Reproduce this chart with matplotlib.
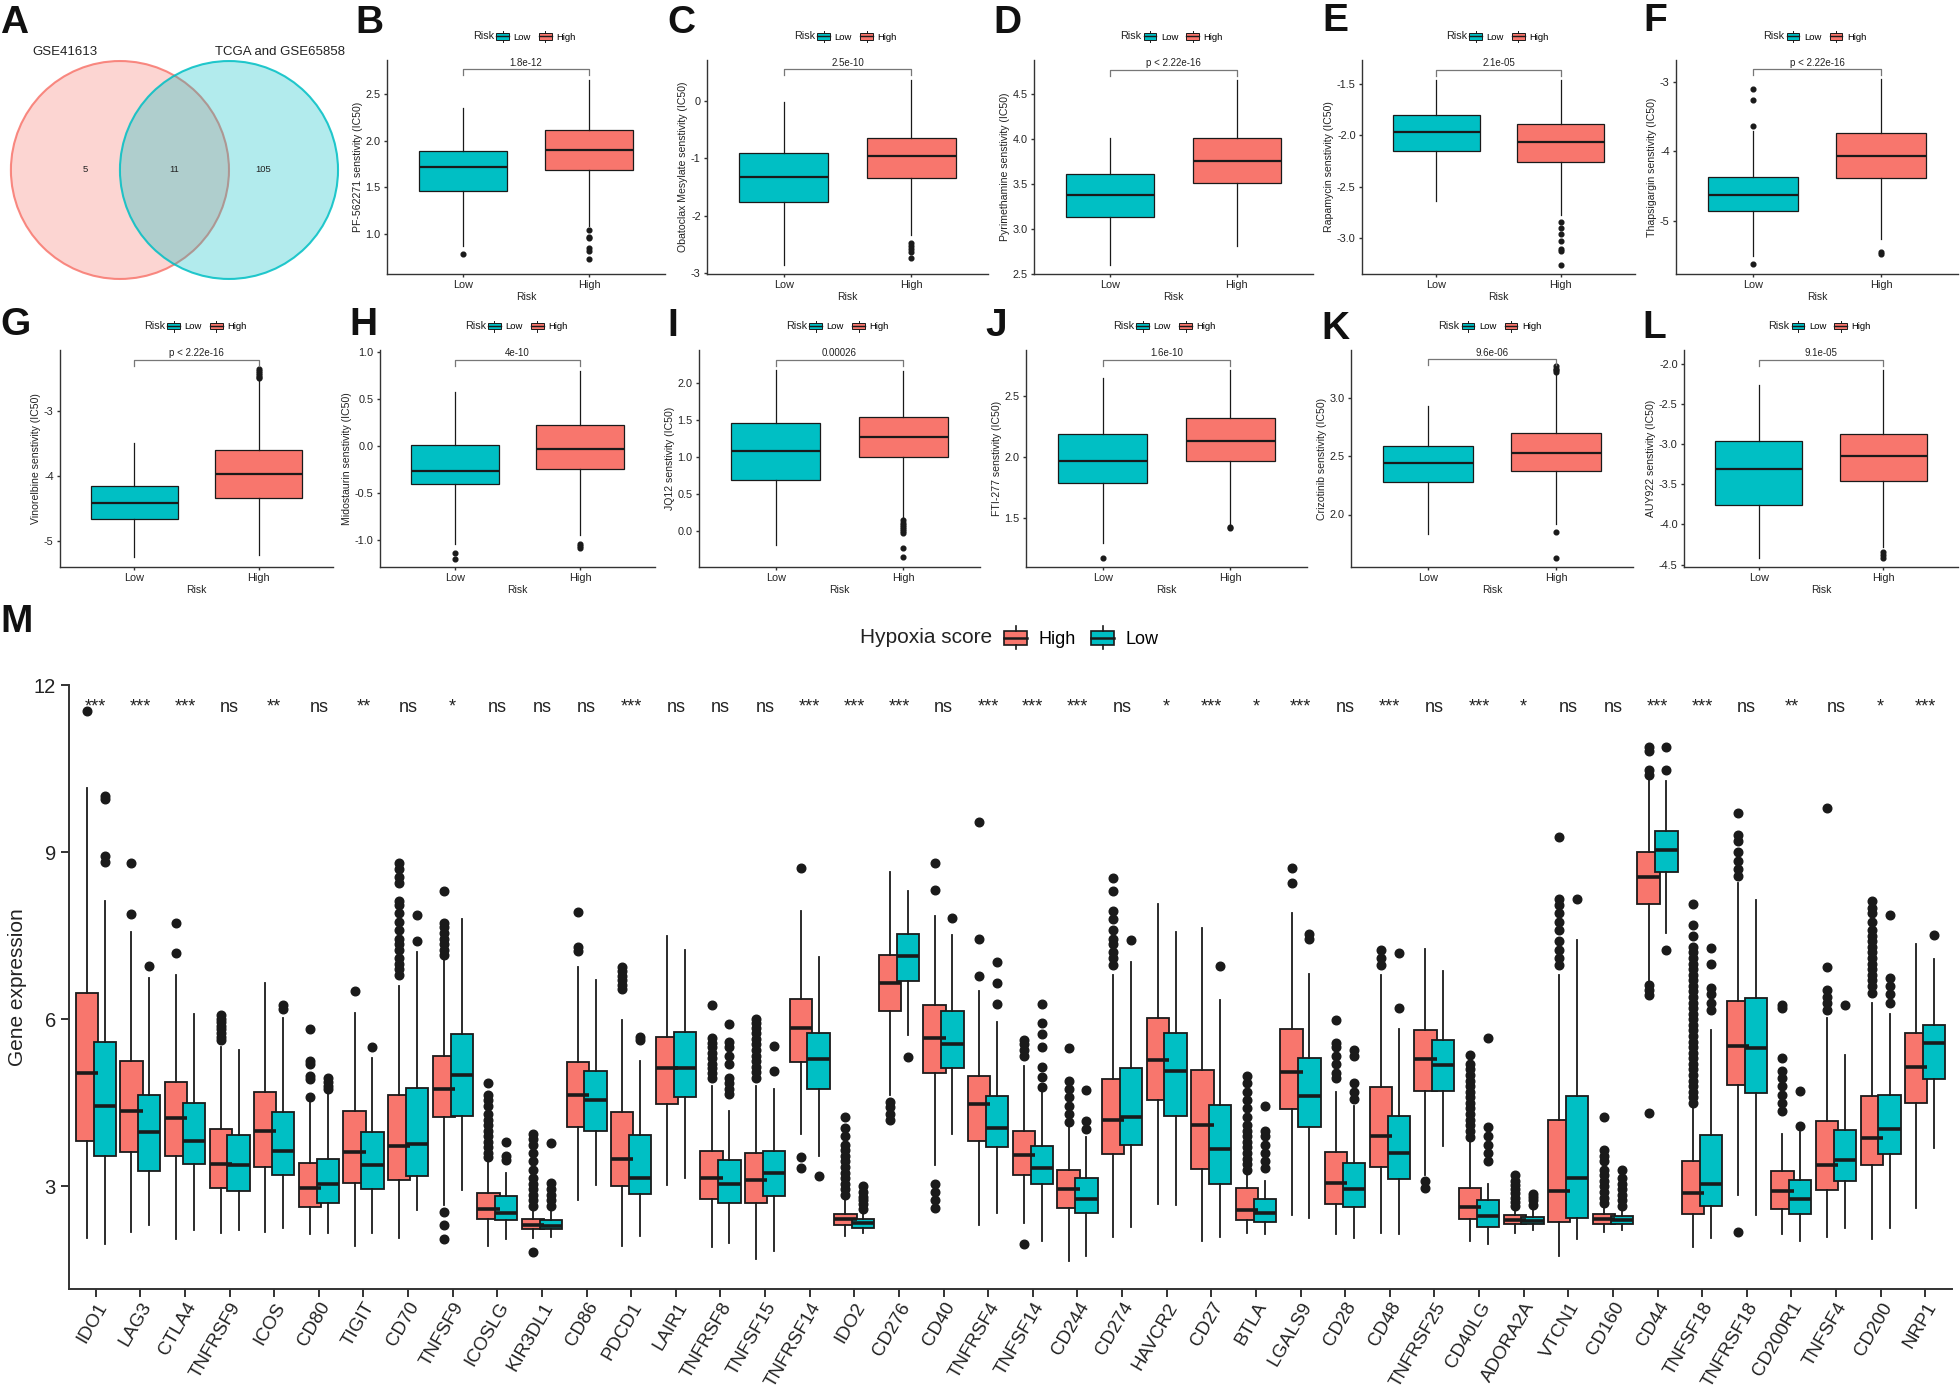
import numpy as np
import matplotlib
matplotlib.use('Agg')
import matplotlib.pyplot as plt
from matplotlib.patches import Circle, Rectangle, Patch
from matplotlib.lines import Line2D
from matplotlib.legend_handler import HandlerBase

plt.rcParams['font.family'] = ['Liberation Sans', 'DejaVu Sans']
plt.rcParams['axes.unicode_minus'] = False

TEAL = '#00BFC4'
SALMON = '#F8766D'
INK = '#1a1a1a'
AXC = '#333333'

# ---------------- A: venn
venn_sets = ['GSE41613', 'TCGA and GSE65858']
venn_counts = ['5', '11', '105']  # left only, shared, right only

# ---------------- B-L: drug sensitivity by risk group
panel_letters = ['B', 'C', 'D', 'E', 'F', 'G', 'H', 'I', 'J', 'K', 'L']
drugs = ['PF-562271', 'Obatoclax Mesylate', 'Pyrimethamine', 'Rapamycin', 'Thapsigargin',
         'Vinorelbine', 'Midostaurin', 'JQ12', 'FTI-277', 'Crizotinib', 'AUY922']
p_labels = ['1.8e-12', '2.5e-10', 'p < 2.22e-16', '2.1e-05', 'p < 2.22e-16',
            'p < 2.22e-16', '4e-10', '0.00026', '1.6e-10', '9.6e-06', '9.1e-05']
risk_groups = ['Low', 'High']

low_q1 = [1.46, -1.76, 3.13, -2.15, -4.85, -4.67, -0.41, 0.70, 1.79, 2.28, -3.76]
low_med = [1.72, -1.32, 3.38, -1.97, -4.63, -4.42, -0.27, 1.09, 1.97, 2.44, -3.31]
low_q3 = [1.89, -0.90, 3.61, -1.80, -4.37, -4.16, 0.01, 1.47, 2.19, 2.59, -2.96]
low_lo = [0.87, -2.86, 2.60, -2.64, -5.50, -5.25, -1.05, -0.18, 1.30, 1.83, -4.42]
low_hi = [2.35, -0.02, 4.01, -1.46, -3.71, -3.49, 0.57, 2.18, 2.65, 2.93, -2.26]
low_out = [[0.79], [], [], [], [-3.10, -3.27, -3.63, -5.62], [], [-1.14, -1.20], [],
           [1.17], [], []]

high_q1 = [1.69, -1.34, 3.51, -2.26, -4.38, -4.34, -0.25, 1.00, 1.97, 2.37, -3.46]
high_med = [1.90, -0.96, 3.76, -2.07, -4.07, -3.98, -0.03, 1.28, 2.13, 2.53, -3.15]
high_q3 = [2.11, -0.64, 4.01, -1.89, -3.74, -3.61, 0.22, 1.54, 2.32, 2.70, -2.87]
high_lo = [1.09, -2.34, 2.81, -2.78, -5.26, -5.22, -0.95, 0.18, 1.45, 1.92, -4.28]
high_hi = [2.65, 0.37, 4.66, -1.46, -2.96, -2.55, 0.80, 2.17, 2.72, 3.20, -2.08]
high_out = [[1.05, 0.97, 0.96, 0.85, 0.82, 0.74],
            [-2.47, -2.53, -2.58, -2.62, -2.74],
            [],
            [-2.84, -2.90, -2.96, -3.03, -3.11, -3.13, -3.26],
            [-5.44, -5.47],
            [-2.36, -2.39, -2.42, -2.45, -2.48, -2.50],
            [-1.05, -1.07, -1.09],
            [0.15, 0.12, 0.09, 0.06, 0.03, 0.0, -0.02, -0.23, -0.35],
            [1.43, 1.42],
            [3.22, 3.24, 3.25, 3.27, 1.85, 1.63],
            [-4.34, -4.38, -4.42]]

ytick_labels = [['1.0', '1.5', '2.0', '2.5'], ['-3', '-2', '-1', '0'],
                ['2.5', '3.0', '3.5', '4.0', '4.5'], ['-3.0', '-2.5', '-2.0', '-1.5'],
                ['-5', '-4', '-3'], ['-5', '-4', '-3'],
                ['-1.0', '-0.5', '0.0', '0.5', '1.0'], ['0.0', '0.5', '1.0', '1.5', '2.0'],
                ['1.5', '2.0', '2.5'], ['2.0', '2.5', '3.0'],
                ['-4.5', '-4.0', '-3.5', '-3.0', '-2.5', '-2.0']]
ylims = [(0.575, 2.86), (-3.01, 0.71), (2.5, 4.88), (-3.35, -1.27), (-5.76, -2.69),
         (-5.40, -2.07), (-1.29, 1.02), (-0.48, 2.45), (1.10, 2.88), (1.55, 3.41),
         (-4.53, -1.83)]

# ---------------- M: immune checkpoint genes by hypoxia score
genes = ['IDO1', 'LAG3', 'CTLA4', 'TNFRSF9', 'ICOS', 'CD80', 'TIGIT', 'CD70', 'TNFSF9',
         'ICOSLG', 'KIR3DL1', 'CD86', 'PDCD1', 'LAIR1', 'TNFRSF8', 'TNFSF15', 'TNFRSF14',
         'IDO2', 'CD276', 'CD40', 'TNFRSF4', 'TNFSF14', 'CD244', 'CD274', 'HAVCR2', 'CD27',
         'BTLA', 'LGALS9', 'CD28', 'CD48', 'TNFRSF25', 'CD40LG', 'ADORA2A', 'VTCN1', 'CD160',
         'CD44', 'TNFSF18', 'TNFRSF18', 'CD200R1', 'TNFSF4', 'CD200', 'NRP1']
sig = ['***', '***', '***', 'ns', '**', 'ns', '**', 'ns', '*', 'ns', 'ns', 'ns', '***', 'ns',
       'ns', 'ns', '***', '***', '***', 'ns', '***', '***', '***', 'ns', '*', '***', '*', '***',
       'ns', '***', 'ns', '***', '*', 'ns', 'ns', '***', '***', 'ns', '**', 'ns', '*', '***']

hi_q1 = [3.82, 3.62, 3.55, 2.98, 3.35, 2.64, 3.07, 3.12, 4.25, 2.42, 2.24, 4.07, 3.00, 4.48,
         2.77, 2.71, 5.24, 2.30, 6.15, 5.03, 3.82, 3.20, 2.62, 3.58, 4.56, 3.31, 2.39, 4.39,
         2.68, 3.35, 4.71, 2.42, 2.33, 2.37, 2.32, 8.07, 2.51, 4.83, 2.59, 2.93, 3.39, 4.49]
hi_med = [5.03, 4.36, 4.22, 3.41, 4.00, 2.98, 3.62, 3.73, 4.75, 2.60, 2.30, 4.64, 3.50, 5.12,
          3.16, 3.12, 5.85, 2.42, 6.65, 5.66, 4.48, 3.57, 2.95, 4.19, 5.27, 4.10, 2.57, 5.05,
          3.07, 3.91, 5.28, 2.64, 2.40, 2.92, 2.42, 8.56, 2.89, 5.53, 2.91, 3.39, 3.87, 5.15]
hi_q3 = [6.47, 5.25, 4.88, 4.03, 4.70, 3.42, 4.35, 4.64, 5.35, 2.89, 2.42, 5.24, 4.33, 5.69,
         3.64, 3.60, 6.36, 2.50, 7.16, 6.25, 4.98, 4.00, 3.30, 4.93, 6.02, 5.09, 2.98, 5.82,
         3.62, 4.78, 5.80, 2.98, 2.48, 4.19, 2.51, 9.00, 3.45, 6.32, 3.28, 4.18, 4.62, 5.75]
hi_lo = [2.07, 2.18, 2.05, 2.16, 2.18, 2.15, 1.94, 2.07, 2.66, 1.94, 2.07, 2.75, 1.94, 3.03,
         1.91, 1.69, 3.94, 2.12, 4.65, 3.39, 2.30, 2.35, 1.66, 2.09, 2.68, 2.03, 2.16, 2.48,
         2.14, 2.16, 3.20, 2.03, 2.16, 1.75, 2.18, 6.66, 1.91, 2.85, 2.14, 2.09, 2.05, 2.62]
hi_hi = [10.16, 7.57, 6.80, 5.50, 6.66, 4.57, 6.12, 6.60, 7.10, 3.45, 2.60, 6.94, 5.98, 7.50,
         4.80, 4.80, 7.94, 2.78, 8.65, 7.85, 6.50, 5.16, 4.10, 6.80, 8.07, 7.64, 3.20, 7.91,
         4.70, 6.80, 7.27, 3.80, 2.60, 6.80, 2.62, 10.30, 4.45, 8.44, 3.95, 6.03, 6.30, 7.36]
hi_out = [[11.53], [7.89, 8.80], [7.19, 7.73],
          [5.62, 5.68, 5.75, 5.82, 5.88, 5.95, 6.01, 6.07], [],
          [4.60, 4.93, 4.98, 5.20, 5.25, 5.82], [6.51],
          [6.8, 6.9, 7.0, 7.1, 7.25, 7.35, 7.45, 7.6, 7.75, 7.9, 8.05, 8.12, 8.45, 8.55, 8.7, 8.8],
          [7.15, 7.25, 7.35, 7.45, 7.55, 7.65, 7.72, 8.30, 2.55, 2.30, 2.05],
          [3.53, 3.6, 3.7, 3.8, 3.9, 4.0, 4.1, 4.2, 4.3, 4.45, 4.55, 4.65, 4.85],
          [2.65, 2.75, 2.85, 2.95, 3.05, 3.15, 3.3, 3.45, 3.6, 3.75, 3.85, 3.94, 1.83],
          [7.22, 7.30, 7.92], [6.55, 6.62, 6.70, 6.78, 6.86, 6.94], [],
          [4.94, 5.03, 5.12, 5.2, 5.3, 5.4, 5.5, 5.58, 5.66, 6.25],
          [4.94, 5.05, 5.15, 5.25, 5.35, 5.45, 5.55, 5.65, 5.75, 5.85, 5.93, 6.00],
          [8.71, 3.53, 3.33],
          [2.85, 2.95, 3.05, 3.15, 3.25, 3.35, 3.45, 3.55, 3.65, 3.75, 3.9, 4.05, 4.25],
          [4.52, 4.42, 4.30, 4.20], [8.32, 8.80, 3.05, 2.90, 2.75, 2.62],
          [6.78, 7.45, 9.55], [5.35, 5.45, 5.55, 5.62, 1.96],
          [4.16, 4.3, 4.45, 4.6, 4.75, 4.9, 5.48],
          [6.98, 7.1, 7.2, 7.35, 7.45, 7.6, 7.8, 7.95, 8.3, 8.53], [], [],
          [3.3, 3.4, 3.5, 3.6, 3.7, 3.8, 3.9, 4.0, 4.1, 4.25, 4.4, 4.55, 4.7, 4.85, 4.98],
          [8.44, 8.71], [4.95, 5.03, 5.2, 5.35, 5.5, 5.57, 5.98], [6.98, 7.10, 7.25],
          [3.10, 2.98],
          [3.89, 4.0, 4.1, 4.2, 4.3, 4.4, 4.5, 4.6, 4.7, 4.8, 4.9, 5.0, 5.1, 5.2, 5.36],
          [2.65, 2.72, 2.8, 2.88, 2.95, 3.02, 3.1, 3.2],
          [6.98, 7.1, 7.25, 7.4, 7.6, 7.75, 7.9, 8.05, 8.16, 9.28],
          [2.7, 2.8, 2.9, 3.0, 3.1, 3.2, 3.3, 3.45, 3.55, 3.66, 4.25],
          [10.39, 10.48, 10.82, 10.89, 6.62, 6.53, 6.44, 4.32],
          [4.5, 4.6, 4.7, 4.8, 4.9, 5.0, 5.1, 5.2, 5.3, 5.4, 5.5, 5.6, 5.7, 5.8, 5.9, 6.0,
           6.1, 6.2, 6.3, 6.4, 6.5, 6.6, 6.7, 6.8, 6.9, 7.0, 7.1, 7.2, 7.3, 7.5, 7.7, 8.07],
          [8.57, 8.7, 8.85, 9.0, 9.2, 9.3, 9.71, 2.18],
          [4.35, 4.5, 4.65, 4.8, 4.95, 5.07, 5.30, 6.20, 6.25],
          [6.16, 6.3, 6.4, 6.53, 6.94, 9.80],
          [6.48, 6.6, 6.7, 6.8, 6.9, 7.0, 7.1, 7.2, 7.3, 7.4, 7.5, 7.6, 7.75, 7.9, 8.0, 8.12],
          []]

lo_q1 = [3.55, 3.27, 3.40, 2.91, 3.20, 2.71, 2.96, 3.18, 4.27, 2.39, 2.24, 4.00, 2.87, 4.60,
         2.71, 2.83, 4.75, 2.25, 6.69, 5.12, 3.71, 3.05, 2.53, 3.75, 4.27, 3.05, 2.36, 4.07,
         2.64, 3.14, 4.71, 2.27, 2.32, 2.44, 2.32, 8.65, 2.65, 4.68, 2.50, 3.09, 3.59, 4.92]
lo_med = [4.45, 3.98, 3.82, 3.38, 3.63, 3.05, 3.39, 3.77, 5.00, 2.53, 2.29, 4.55, 3.16, 5.12,
          3.05, 3.24, 5.28, 2.35, 7.14, 5.55, 4.05, 3.33, 2.78, 4.25, 5.07, 3.68, 2.53, 4.62,
          2.95, 3.60, 5.18, 2.47, 2.38, 3.16, 2.40, 9.04, 3.05, 5.48, 2.77, 3.48, 4.03, 5.57]
lo_q3 = [5.60, 4.65, 4.50, 3.93, 4.33, 3.50, 3.97, 4.77, 5.74, 2.83, 2.40, 5.07, 3.93, 5.78,
         3.48, 3.64, 5.75, 2.42, 7.53, 6.15, 4.62, 3.73, 3.15, 5.12, 5.75, 4.47, 2.77, 5.30,
         3.42, 4.27, 5.62, 2.75, 2.45, 4.62, 2.47, 9.38, 3.92, 6.38, 3.11, 4.02, 4.65, 5.89]
lo_lo = [1.96, 2.30, 2.21, 2.21, 2.25, 2.16, 2.16, 2.57, 2.94, 2.05, 2.09, 3.03, 2.12, 3.15,
         1.98, 1.85, 3.55, 2.16, 5.71, 3.94, 2.53, 2.03, 1.75, 2.27, 2.66, 2.09, 2.15, 2.44,
         2.07, 2.15, 3.73, 1.96, 2.21, 2.05, 2.21, 7.55, 2.07, 2.48, 2.03, 2.25, 2.25, 3.69]
lo_hi = [8.12, 6.75, 6.09, 5.45, 6.03, 4.70, 5.30, 7.21, 7.80, 3.25, 2.60, 6.70, 5.25, 7.25,
         4.35, 4.75, 7.12, 2.55, 8.30, 7.51, 5.95, 4.73, 3.89, 7.03, 7.57, 6.35, 3.10, 6.82,
         4.44, 5.83, 6.86, 3.05, 2.62, 7.42, 2.58, 10.28, 5.80, 8.15, 3.98, 5.36, 6.10, 7.09]
lo_out = [[8.82, 8.94, 9.96, 10.00], [6.96], [], [], [6.18, 6.25], [4.75, 4.80, 4.87, 4.94],
          [5.51], [7.41, 7.87], [], [3.48, 3.55, 3.80], [2.65, 2.75, 2.85, 2.95, 3.07, 3.78],
          [], [5.62, 5.69], [], [4.66, 4.75, 4.85, 4.95, 5.2, 5.35, 5.5, 5.6, 5.91],
          [5.07, 5.53], [3.19], [2.6, 2.68, 2.75, 2.82, 2.9, 3.0], [5.33], [7.82],
          [6.28, 6.65, 7.03], [4.78, 4.96, 5.15, 5.5, 5.73, 5.94, 6.28], [4.03, 4.18, 4.73],
          [7.42], [], [6.96], [3.33, 3.45, 3.6, 3.75, 3.9, 4.0, 4.45], [7.44, 7.53],
          [4.57, 4.7, 4.85, 5.35, 5.45], [6.21, 7.19], [], [3.45, 3.6, 3.75, 3.9, 4.07, 5.66],
          [2.66, 2.75, 2.82, 2.87], [8.16], [2.65, 2.75, 2.85, 2.95, 3.05, 3.15, 3.3],
          [10.48, 10.89, 7.25], [6.16, 6.3, 6.45, 6.57, 7.0, 7.28], [], [4.09, 4.71], [6.25],
          [6.3, 6.45, 6.6, 6.75, 7.87], [7.51]]

W, H = 1960, 1394
fig = plt.figure(figsize=(W / 100, H / 100), dpi=100)


def px_axes(x0, y0, x1, y1):
    return fig.add_axes([x0 / W, 1 - y1 / H, (x1 - x0) / W, (y1 - y0) / H])


class BoxKey(HandlerBase):
    def __init__(self, lw=0.8, mlw=1.2):
        super().__init__()
        self.lw = lw
        self.mlw = mlw

    def create_artists(self, legend, orig_handle, xdescent, ydescent, width, height,
                       fontsize, trans):
        x0, y0 = -xdescent, -ydescent
        cx = x0 + width / 2
        box = Rectangle((x0 + 0.05 * width, y0 + 0.2 * height), 0.9 * width, 0.6 * height,
                        facecolor=orig_handle.get_facecolor(), edgecolor=INK, lw=self.lw,
                        transform=trans)
        med = Line2D([x0 + 0.05 * width, x0 + 0.95 * width], [y0 + height / 2] * 2,
                     color=INK, lw=self.mlw, transform=trans)
        w1 = Line2D([cx, cx], [y0 + 0.8 * height, y0 + height], color=INK, lw=self.lw,
                    transform=trans)
        w2 = Line2D([cx, cx], [y0, y0 + 0.2 * height], color=INK, lw=self.lw, transform=trans)
        return [box, med, w1, w2]


def style_axis(ax, lw, tl, ls):
    ax.spines[['top', 'right']].set_visible(False)
    for s in ['left', 'bottom']:
        ax.spines[s].set_linewidth(lw)
        ax.spines[s].set_color(AXC)
    ax.tick_params(length=tl, width=lw, color=AXC, labelsize=ls, labelcolor='#222222')


# ---------------- panel A
ax = px_axes(0, 40, 345, 300)
ax.set_xlim(-1.60, 1.564)
ax.set_ylim(-1.193, 1.193)
ax.axis('off')
for cx, col in zip([-0.5, 0.5], [SALMON, TEAL]):
    ax.add_patch(Circle((cx, 0), 1.0, facecolor=col, alpha=0.3, edgecolor='none'))
    ax.add_patch(Circle((cx, 0), 1.0, facecolor='none', edgecolor=col, lw=1.5, alpha=0.85))
for x, t in zip([-0.82, 0.0, 0.81], venn_counts):
    ax.text(x, 0, t, ha='center', va='center', fontsize=6.8, color='#222222')
ax.text(-1.0, 1.085, venn_sets[0], ha='center', va='center', fontsize=9.5, color='#222222')
ax.text(0.97, 1.085, venn_sets[1], ha='center', va='center', fontsize=9.5, color='#222222')

# ---------------- panels B-L
boxes_px = [(387, 60, 665, 274), (707, 60, 988, 274), (1034, 60, 1313, 274),
            (1362, 60, 1635, 274), (1676, 60, 1958, 274),
            (60, 350, 333, 567), (380, 350, 655, 567), (699, 350, 980, 567),
            (1026, 350, 1307, 567), (1351, 350, 1633, 567), (1684, 350, 1958, 567)]

for i in range(11):
    x0, y0, x1, y1 = boxes_px[i]
    ax = px_axes(x0, y0, x1, y1)
    stats = [dict(q1=low_q1[i], med=low_med[i], q3=low_q3[i], whislo=low_lo[i],
                  whishi=low_hi[i], fliers=low_out[i]),
             dict(q1=high_q1[i], med=high_med[i], q3=high_q3[i], whislo=high_lo[i],
                  whishi=high_hi[i], fliers=high_out[i])]
    for k, col in enumerate([TEAL, SALMON]):
        ax.bxp([stats[k]], positions=[k + 1], widths=0.7, patch_artist=True,
               showcaps=False, manage_ticks=False,
               boxprops=dict(facecolor=col, edgecolor=INK, linewidth=0.9),
               medianprops=dict(color=INK, linewidth=1.6),
               whiskerprops=dict(color=INK, linewidth=0.9),
               flierprops=dict(marker='o', markerfacecolor=INK, markeredgecolor=INK,
                               markersize=3.4))
    ax.set_xlim(0.4, 2.6)
    lo, hi = ylims[i]
    ax.set_ylim(lo, hi)
    ax.set_xticks([1, 2])
    ax.set_xticklabels(risk_groups)
    ax.set_yticks([float(s) for s in ytick_labels[i]])
    ax.set_yticklabels(ytick_labels[i])
    style_axis(ax, 1.0, 2.5, 7.8)
    ax.tick_params(axis='x', pad=2)
    ax.tick_params(axis='y', pad=2)
    ax.set_xlabel('Risk', fontsize=7.5, labelpad=1, color='#222222')
    ax.set_ylabel(drugs[i] + ' senstivity (IC50)', fontsize=7.6, labelpad=2, color='#222222')
    # comparison bracket
    dy = (hi - lo) / (y1 - y0)
    yb = hi - 9.5 * dy
    ax.plot([1, 1, 2, 2], [yb - 6 * dy, yb, yb, yb - 6 * dy], color='#777777', lw=0.9)
    ax.text(1.5, yb + 1.0 * dy, p_labels[i], ha='center', va='bottom', fontsize=7,
            color='#222222')
    # legend
    ax.text(0.385, 1.11, 'Risk', transform=ax.transAxes, ha='right', va='center',
            fontsize=7.8, color='#222222')
    hl = [Patch(facecolor=TEAL), Patch(facecolor=SALMON)]
    ax.legend(hl, risk_groups, loc='center left', bbox_to_anchor=(0.39, 1.11), ncol=2,
              frameon=False, fontsize=6.8, handlelength=1.5, handleheight=1.4,
              handletextpad=0.4, columnspacing=0.8, borderpad=0, borderaxespad=0,
              handler_map={Patch: BoxKey(0.7, 1.0)})

# ---------------- panel M
ax = px_axes(69, 685, 1952, 1289)
pos = np.arange(1, len(genes) + 1)
hi_stats = [dict(q1=hi_q1[i], med=hi_med[i], q3=hi_q3[i], whislo=hi_lo[i], whishi=hi_hi[i],
                 fliers=hi_out[i]) for i in range(len(genes))]
lo_stats = [dict(q1=lo_q1[i], med=lo_med[i], q3=lo_q3[i], whislo=lo_lo[i], whishi=lo_hi[i],
                 fliers=lo_out[i]) for i in range(len(genes))]
for st, off, col in [(hi_stats, -0.2, SALMON), (lo_stats, 0.2, TEAL)]:
    ax.bxp(st, positions=pos + off, widths=0.5, patch_artist=True, showcaps=False,
           manage_ticks=False,
           boxprops=dict(facecolor=col, edgecolor=INK, linewidth=1.3),
           medianprops=dict(color=INK, linewidth=2.6),
           whiskerprops=dict(color=INK, linewidth=1.3),
           flierprops=dict(marker='o', markerfacecolor=INK, markeredgecolor=INK,
                           markersize=6.2))
for i, s in enumerate(sig):
    ax.text(pos[i], 11.52, s, ha='center', va='baseline', fontsize=13, color='#222222')
ax.set_xlim(0.4, len(genes) + 0.6)
ax.set_ylim(1.16, 12.0)
ax.set_yticks([3, 6, 9, 12])
ax.set_xticks(pos)
ax.set_xticklabels(genes, rotation=60, ha='right', rotation_mode='anchor')
style_axis(ax, 1.4, 5.5, 14.5)
ax.tick_params(axis='x', labelsize=13.5, pad=2)
ax.tick_params(axis='y', pad=4)
ax.set_ylabel('Gene expression', fontsize=15, labelpad=5, color='#222222')
ax.text(0.490, 1.078, 'Hypoxia score', transform=ax.transAxes, ha='right', va='center',
        fontsize=15, color='#222222')
hl = [Patch(facecolor=SALMON), Patch(facecolor=TEAL)]
ax.legend(hl, ['High', 'Low'], loc='center left', bbox_to_anchor=(0.496, 1.078), ncol=2,
          frameon=False, fontsize=13, handlelength=1.4, handleheight=1.6, handletextpad=0.55,
          columnspacing=0.8, borderpad=0, borderaxespad=0,
          handler_map={Patch: BoxKey(1.2, 1.8)})

# ---------------- panel letters
letters = [('A', 0, 5), ('B', 355, 5), ('C', 667, 5), ('D', 993, 5), ('E', 1322, 3),
           ('F', 1643, 3), ('G', 0, 307), ('H', 349, 307), ('I', 667, 308), ('J', 985, 308),
           ('K', 1321, 311), ('L', 1642, 310), ('M', 0, 604)]
for t, x, y in letters:
    fig.text(x / W, 1 - y / H, t, ha='left', va='top', fontsize=28, fontweight='bold',
             color='#111111')

fig.savefig('out.png', dpi=100, facecolor='white')
